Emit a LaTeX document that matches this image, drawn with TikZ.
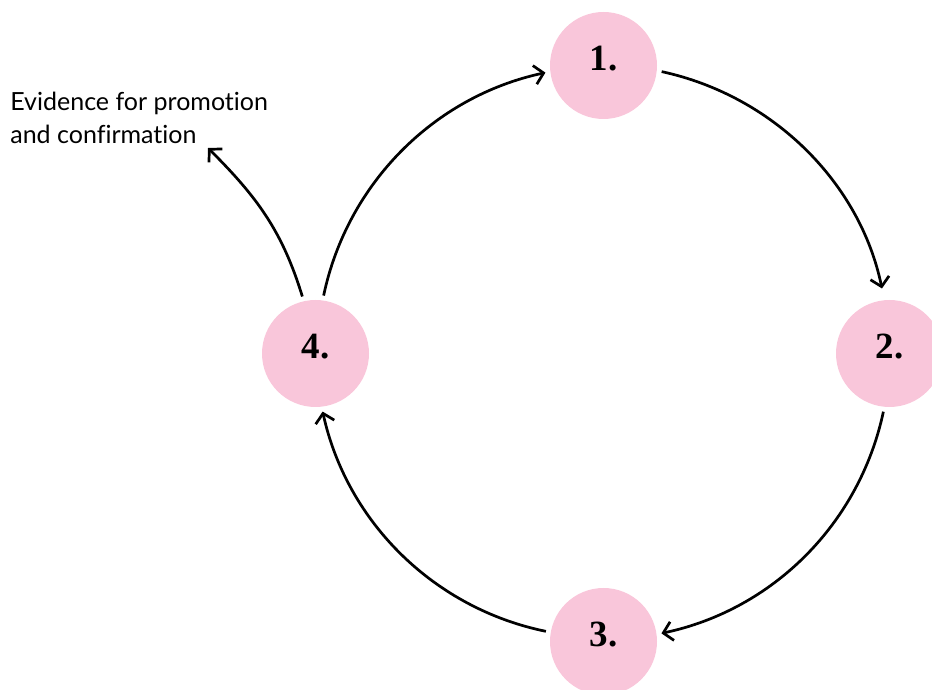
\documentclass[tikz,border=0pt]{standalone}
\usepackage{fontspec}
\setmainfont{Liberation Serif}
\newfontfamily\notefont[Ligatures=NoCommon]{Lato}
\usetikzlibrary{arrows.meta}
\definecolor{pinkfill}{RGB}{249,198,218}

\begin{document}
\begin{tikzpicture}[x=1pt, y=1pt, line width=2.7pt, >={Straight Barb[length=9pt,width=19pt]},
	main/.style = {circle, fill=pinkfill, minimum size=107pt, inner sep=0pt, outer sep=5pt, text depth=14pt, font=\bfseries\fontsize{37}{37}\selectfont},
	note/.style = {align=left, inner sep=0pt, font=\notefont\fontsize{25}{33}\selectfont}]
		\useasboundingbox (0,0) rectangle (932,690);
		\node (1) [main]  at (603.5,624.5) {1.};
		\node (2) [main]  at (889.5,336.5) {2.};
		\node (3) [main]  at (603.5,48.5) {3.};
		\node (4) [main]  at (315.5,336.5) {4.};
		\node (ev) [note, anchor=north west]  at (9,599) {Evidence for promotion\\and confirmation};
		\coordinate (out) at (208,542);
		\draw[->, shorten >=7pt]  (1.-6) to[bend left=33, looseness=0.93] (2.96);
		\draw[->]  (2.-96) to[bend left=33, looseness=0.93] (3.8);
		\draw[->]  (3.170) to[bend left=33, looseness=0.93] (4.-83);
		\draw[->]  (4.82) to[bend left=33, looseness=0.93] (1.-173);
		\draw[->]  (4.103) to[out=107, in=-45] (out);
	\end{tikzpicture}
\end{document}
